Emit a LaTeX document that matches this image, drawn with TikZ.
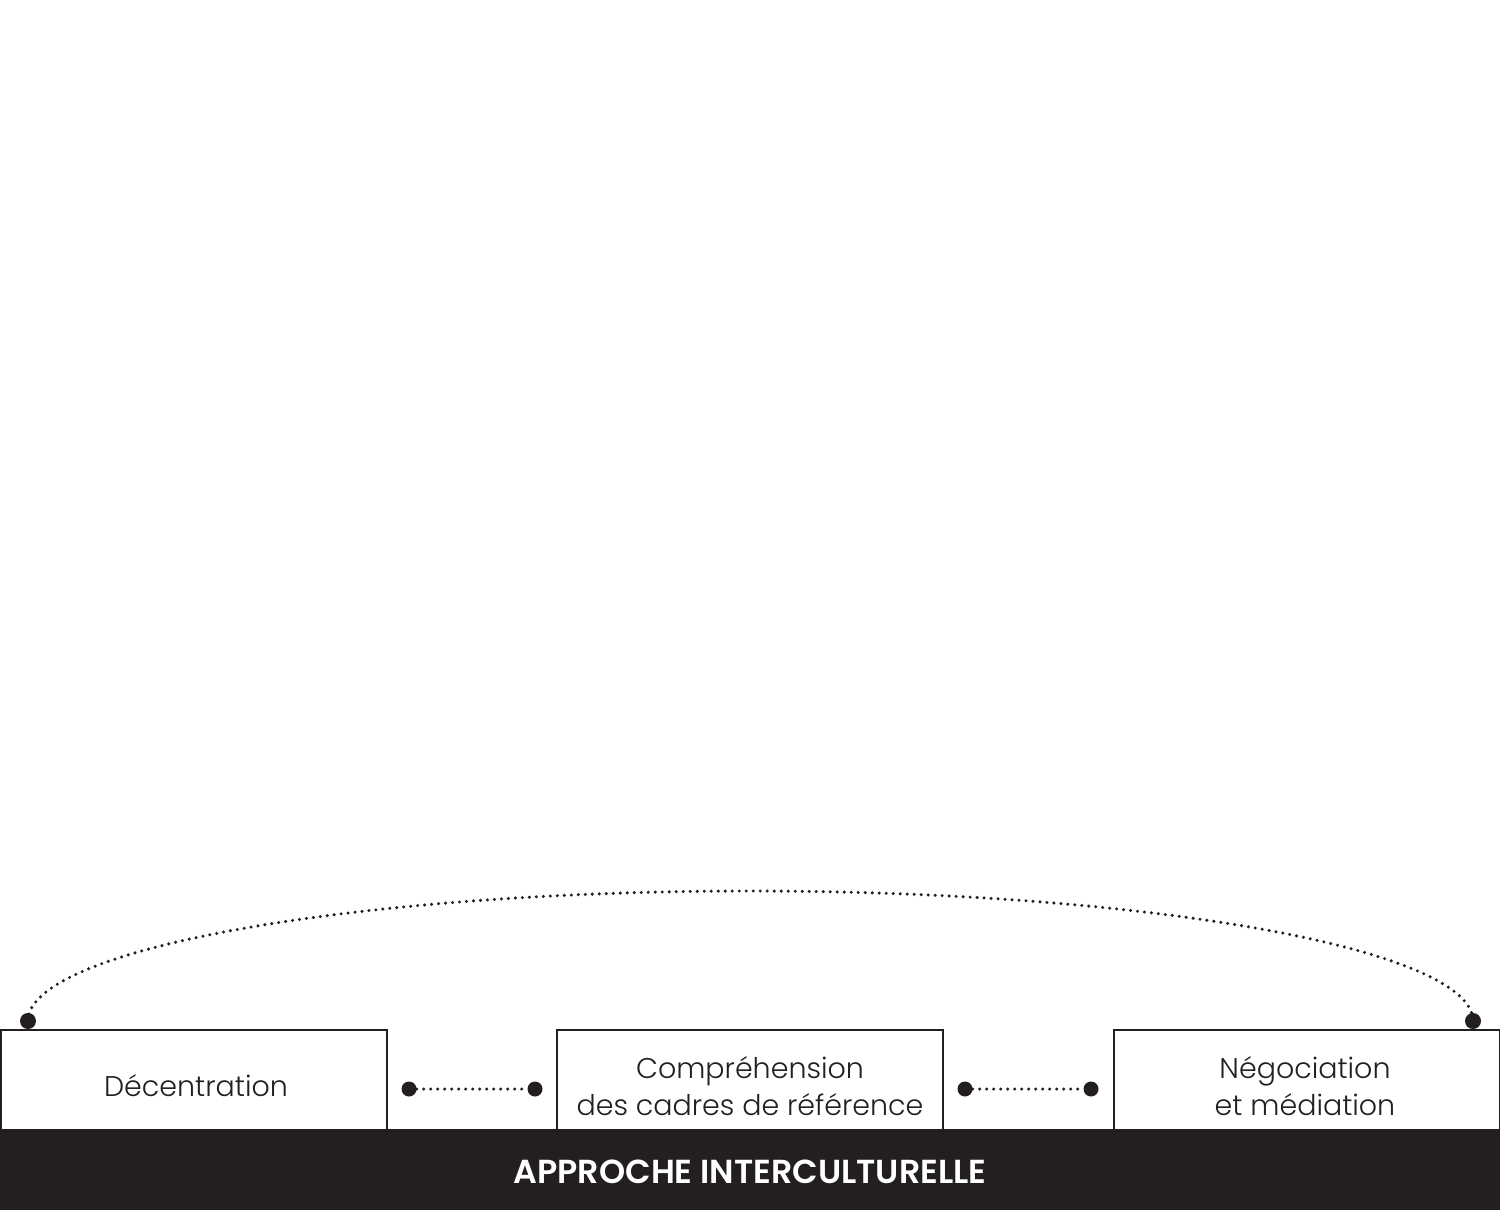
\documentclass[tikz,border=0pt]{standalone}
\usepackage{fontspec}
\setmainfont{Poppins}[UprightFont={* Light},BoldFont={* SemiBold}]
\definecolor{ink}{HTML}{231F20}
\begin{document}
\begin{tikzpicture}[x=1pt,y=-1pt,
  box/.style={draw=ink,line width=2pt,fill=white,minimum width=386pt,minimum height=112pt,inner sep=0pt,anchor=north west,text=ink},
  lbl/.style={text=ink,font=\fontsize{28.5}{37}\selectfont,align=center,inner sep=0pt},
  bigdot/.style={circle,fill=ink,inner sep=0pt,minimum size=16pt},
  middot/.style={circle,fill=ink,inner sep=0pt,minimum size=15pt},
  dotline/.style={draw=ink,line width=3.4pt,line cap=round,dash pattern=on 0pt off 7pt}]
\useasboundingbox (0,0) rectangle (1500,1210);
\fill[white] (0,0) rectangle (1500,1210);
% boxes
\node[box] (b1) at (0,1029) {};
\node[box] (b2) at (555.5,1029) {};
\node[box] (b3) at (1112.5,1029) {};
\node[lbl] (t1) at (196,1086) {Décentration};
\node[lbl] (t2) at (750,1086) {Compréhension\\des cadres de référence};
\node[lbl] (t3) at (1305,1086) {Négociation\\et médiation};
% bar
\node[fill=ink,minimum width=1500pt,minimum height=81pt,inner sep=0pt,anchor=north west] (bar) at (0,1129) {};
\node[text=white,font=\bfseries\fontsize{33.3}{36}\selectfont,inner sep=0pt] (title) at (750,1172) {APPROCHE INTERCULTURELLE};
% dots
\node[bigdot] (dl) at (28,1021) {};
\node[bigdot] (dr) at (1473,1021) {};
\node[middot] (m1) at (409,1089) {};
\node[middot] (m2) at (535,1089) {};
\node[middot] (m3) at (965,1089) {};
\node[middot] (m4) at (1091,1089) {};
% connectors
\draw[dotline] (dl.center) arc[start angle=180,end angle=360,x radius=722.5,y radius=130];
\draw[dotline] (m1) -- (m2);
\draw[dotline] (m3) -- (m4);
\end{tikzpicture}
\end{document}
